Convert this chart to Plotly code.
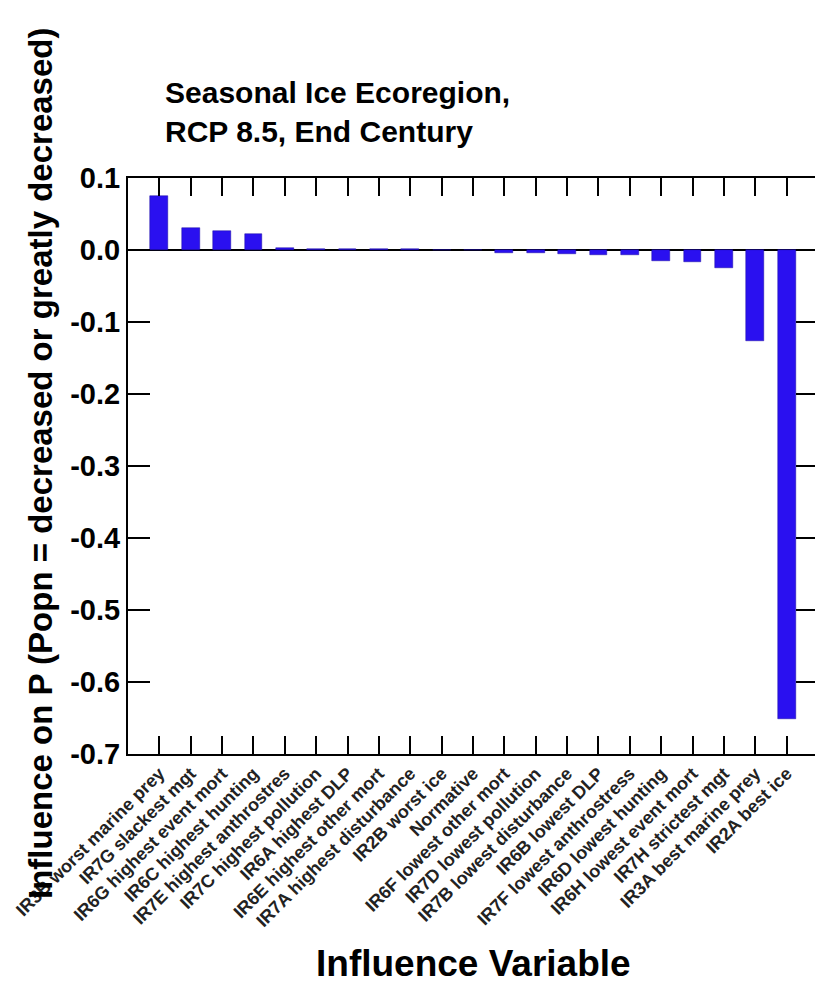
import plotly.graph_objects as go

categories = [
    "IR3B worst marine prey", "IR7G slackest mgt", "IR6G highest event mort",
    "IR6C highest hunting", "IR7E highest anthrostres", "IR7C highest pollution",
    "IR6A highest DLP", "IR6E highest other mort", "IR7A highest disturbance",
    "IR2B worst ice", "Normative", "IR6F lowest other mort", "IR7D lowest pollution",
    "IR7B lowest disturbance", "IR6B lowest DLP", "IR7F lowest anthrostress",
    "IR6D lowest hunting", "IR6H lowest event mort", "IR7H strictest mgt",
    "IR3A best marine prey", "IR2A best ice",
]
values = [
    0.075, 0.031, 0.026, 0.022, 0.003, 0.002, 0.002, 0.002, 0.002,
    0.0, 0.0, -0.004, -0.004, -0.006, -0.007, -0.007,
    -0.015, -0.016, -0.025, -0.127, -0.652,
]
y_ticks = [0.1, 0.0, -0.1, -0.2, -0.3, -0.4, -0.5, -0.6, -0.7]
y_tick_labels = ["0.1", "0.0", "-0.1", "-0.2", "-0.3", "-0.4", "-0.5", "-0.6", "-0.7"]

FONT = "Liberation Sans, Arial, sans-serif"

# figure is offset 8px by the page body margin; compensate
W, H = 815, 977
L, R, T, B = 120, 5, 170, 231
PW, PH = W - L - R, H - T - B

fig = go.Figure()
fig.add_trace(go.Bar(
    x=list(range(len(categories))), y=values,
    width=0.57,
    marker=dict(color="#2a10f0", line=dict(color="#1a0aa0", width=0.5)),
))

fig.update_layout(
    width=W, height=H,
    margin=dict(l=L, r=R, t=T, b=B, autoexpand=False),
    paper_bgcolor="white", plot_bgcolor="white",
    showlegend=False,
    bargap=0,
    font=dict(family=FONT, color="black"),
)

fig.update_xaxes(
    range=[-1, 21],
    tickmode="array",
    tickvals=list(range(len(categories))),
    ticktext=[f"<b>{c}</b>" for c in categories],
    tickangle=-45,
    tickfont=dict(size=18, family=FONT, color="#222"),
    ticks="inside", ticklen=18, tickwidth=2, tickcolor="black",
    showline=True, linecolor="black", linewidth=2, mirror="ticks",
    showgrid=False, zeroline=False, automargin=False,
)

fig.update_yaxes(
    range=[-0.7, 0.1],
    tickmode="array",
    tickvals=y_ticks,
    ticktext=[f"<b>{t}</b>" for t in y_tick_labels],
    tickfont=dict(size=29, family=FONT, color="black"),
    ticks="inside", ticklen=22, tickwidth=2, tickcolor="black",
    showline=True, linecolor="black", linewidth=2, mirror="ticks",
    showgrid=False, automargin=False,
    zeroline=True, zerolinecolor="black", zerolinewidth=2,
)

def px_x(xp):  # page x pixel -> paper x
    return (xp - 8 - L) / PW

def px_y(yp):  # page y pixel -> paper y
    return 1 - (yp - 8 - T) / PH

# chart title
fig.add_annotation(
    text="<b>Seasonal Ice Ecoregion,<br>RCP 8.5, End Century</b>",
    xref="paper", yref="paper",
    x=px_x(163), y=px_y(74), xanchor="left", yanchor="top", align="left",
    showarrow=False,
    font=dict(size=30, family=FONT, color="black"),
)

# y-axis title
fig.add_annotation(
    text="<b>Influence on P (Popn = decreased or greatly decreased)</b>",
    textangle=-90,
    xref="paper", yref="paper",
    x=px_x(40), y=px_y(464),
    xanchor="center", yanchor="middle",
    showarrow=False,
    font=dict(size=33, family=FONT, color="black"),
)

# x-axis title
fig.add_annotation(
    text="<b>Influence Variable</b>",
    xref="paper", yref="paper",
    x=px_x(473), y=px_y(963),
    xanchor="center", yanchor="middle",
    showarrow=False,
    font=dict(size=37, family=FONT, color="black"),
)

fig.write_html("out.html")
